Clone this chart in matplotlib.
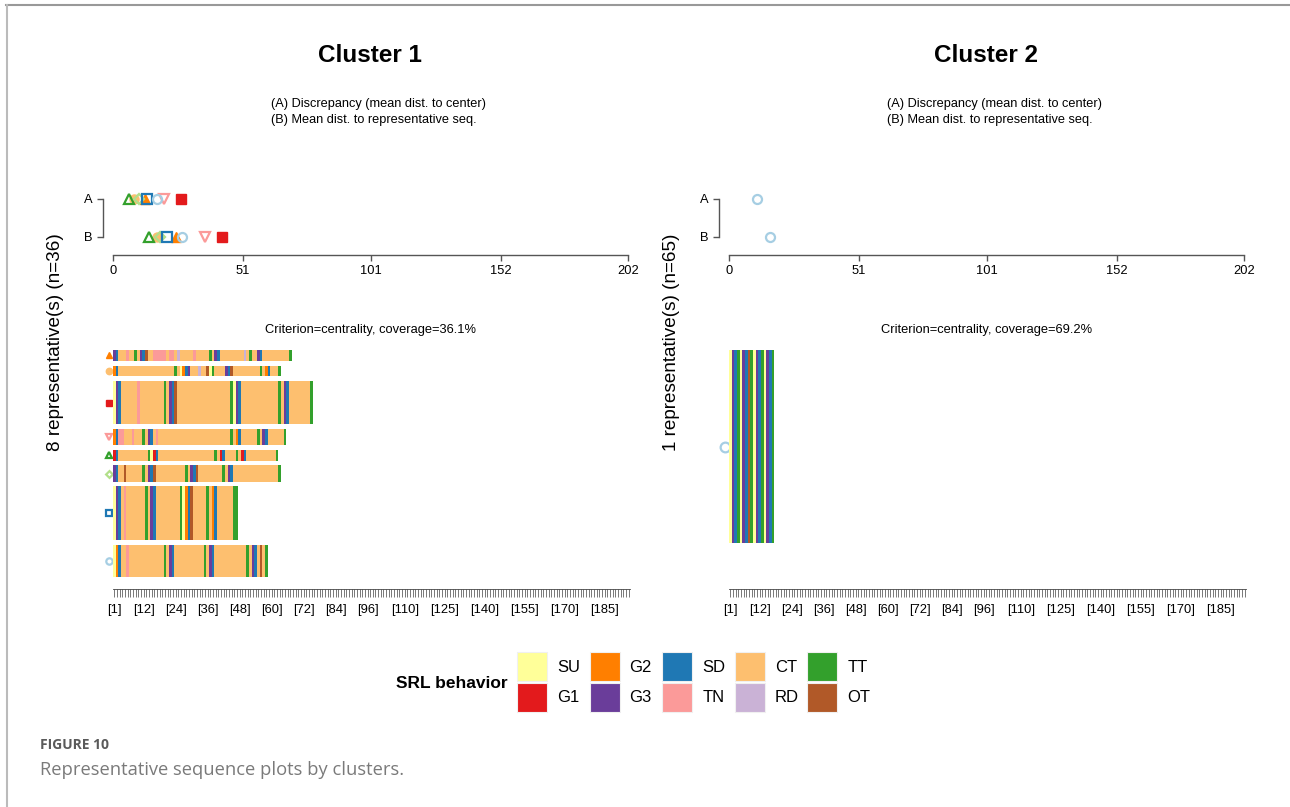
import matplotlib
matplotlib.use("Agg")
import matplotlib.pyplot as plt
from matplotlib.patches import Rectangle
from matplotlib.lines import Line2D

plt.rcParams['font.family'] = ['Liberation Sans', 'DejaVu Sans']

W, H = 1290, 807

# state alphabet and colours
states = ['SU', 'G1', 'G2', 'G3', 'SD', 'TN', 'CT', 'RD', 'TT', 'OT']
state_colors = ['#FFFF99', '#E31A1C', '#FF7F00', '#6A3D9A', '#1F78B4',
                '#FB9A99', '#FDBF6F', '#CAB2D6', '#33A02C', '#B15928']

n_positions = 194
pos_labels = [1, 12, 24, 36, 48, 60, 72, 84, 96, 110, 125, 140, 155, 170, 185]
dist_ticks = [0, 51, 101, 152, 202]

# cluster 1 representatives (top to bottom), run-length coded
c1_seqs = [
    [('G3', 1), ('SD', 1), ('CT', 3), ('TN', 1), ('CT', 2), ('TT', 1), ('CT', 1), ('G3', 1), ('SD', 1), ('OT', 1),
     ('CT', 2), ('TN', 5), ('CT', 1), ('TN', 2), ('CT', 1), ('RD', 1), ('CT', 5), ('TN', 1), ('CT', 5), ('TT', 1),
     ('CT', 1), ('G3', 1), ('SD', 1), ('CT', 9), ('RD', 1), ('CT', 1), ('TT', 1), ('CT', 2), ('G3', 1), ('SD', 1),
     ('CT', 10), ('TT', 1)],
    [('G2', 1), ('SD', 1), ('CT', 21), ('TT', 1), ('CT', 1), ('SU', 1), ('G2', 1), ('SD', 1), ('G3', 1), ('CT', 3),
     ('RD', 1), ('CT', 2), ('OT', 1), ('SU', 1), ('TT', 1), ('CT', 4), ('G3', 1), ('SD', 1), ('OT', 1), ('CT', 10),
     ('TT', 1), ('CT', 1), ('G2', 1), ('SD', 1), ('CT', 3), ('TT', 1)],
    [('SU', 1), ('G3', 1), ('SD', 1), ('CT', 6), ('TN', 1), ('CT', 9), ('TT', 1), ('CT', 1), ('G3', 1), ('SD', 1),
     ('OT', 1), ('CT', 20), ('TT', 1), ('SU', 1), ('G3', 1), ('SD', 1), ('CT', 14), ('TT', 1), ('CT', 1), ('G3', 1),
     ('SD', 1), ('CT', 8), ('TT', 1)],
    [('G2', 1), ('SD', 1), ('TN', 2), ('CT', 3), ('TN', 1), ('CT', 3), ('TT', 1), ('CT', 1), ('G3', 1), ('SD', 1),
     ('CT', 1), ('TN', 1), ('CT', 27), ('TT', 1), ('CT', 1), ('G2', 1), ('SD', 1), ('CT', 6), ('TT', 1), ('CT', 1),
     ('G3', 1), ('SD', 1), ('CT', 6), ('TT', 1)],
    [('G1', 1), ('SD', 1), ('CT', 11), ('TT', 1), ('SU', 1), ('G1', 1), ('SD', 1), ('CT', 21), ('TT', 1), ('CT', 1),
     ('G1', 1), ('SD', 1), ('CT', 4), ('TT', 1), ('CT', 1), ('G1', 1), ('SD', 1), ('CT', 11), ('TT', 1)],
    [('G3', 1), ('SD', 1), ('CT', 2), ('OT', 1), ('CT', 6), ('TT', 1), ('CT', 1), ('G3', 1), ('SD', 1), ('OT', 1),
     ('CT', 11), ('TT', 1), ('CT', 1), ('G3', 1), ('SD', 1), ('OT', 1), ('CT', 9), ('TT', 1), ('CT', 1), ('G3', 1),
     ('SD', 1), ('CT', 17), ('TT', 1)],
    [('SU', 1), ('G3', 1), ('SD', 1), ('CT', 1), ('TN', 1), ('CT', 7), ('TT', 1), ('CT', 1), ('G3', 1), ('SD', 1),
     ('CT', 9), ('TT', 1), ('SU', 1), ('G2', 1), ('SD', 1), ('OT', 1), ('CT', 5), ('TT', 1), ('CT', 1), ('G2', 1),
     ('SD', 1), ('CT', 6), ('TT', 2)],
    [('SU', 1), ('G2', 1), ('SD', 1), ('CT', 2), ('TN', 1), ('CT', 13), ('TT', 1), ('CT', 1), ('G3', 1), ('SD', 1),
     ('CT', 11), ('TT', 1), ('CT', 1), ('G3', 1), ('SD', 1), ('CT', 12), ('TT', 1), ('CT', 1), ('G3', 1), ('SD', 1),
     ('CT', 1), ('OT', 1), ('CT', 1), ('TT', 1)],
]
c1_weights = [2, 2, 8, 3, 2, 3, 10, 6]
c1_distA = [12.5, 8.4, 26.7, 20.1, 6.4, 10.3, 13.5, 17.1]
c1_distB = [24.7, 17.4, 42.9, 36.1, 14.0, 18.4, 21.0, 26.9]

c2_seqs = [
    [('SU', 1), ('G3', 1), ('SD', 1), ('TT', 1), ('SU', 1), ('G3', 1), ('SD', 1), ('OT', 1), ('TT', 1),
     ('SU', 1), ('G3', 1), ('SD', 1), ('TT', 1), ('SU', 1), ('G3', 1), ('SD', 1), ('TT', 1)],
]
c2_weights = [65]
c2_distA = [10.9]
c2_distB = [16.1]

# marker styles for the representatives
c1_markers = ['^', 'o', 's', 'v', '^', 'D', 's', 'o']
c1_mcolors = ['#FF7F00', '#FDBF6F', '#E31A1C', '#FB9A99', '#33A02C', '#B2DF8A', '#1F78B4', '#A6CEE3']
c1_filled = [True, True, True, False, False, False, False, False]
c2_markers = ['o']
c2_mcolors = ['#A6CEE3']
c2_filled = [False]

col = dict(zip(states, state_colors))
fig = plt.figure(figsize=(W / 100, H / 100), dpi=100)


def box(x0, y0, x1, y1):
    return [x0 / W, 1 - y1 / H, (x1 - x0) / W, (y1 - y0) / H]


def mstyle(m, c, filled, size):
    s = m == 'D' and size * 0.75 or size
    if filled:
        return dict(marker=m, markersize=s, color=c, markeredgecolor=c, linestyle='none')
    return dict(marker=m, markersize=s, markerfacecolor='none', markeredgecolor=c,
                markeredgewidth=1.6, linestyle='none')


def cluster(x0, title, seqs, weights, dA, dB, markers, mcols, filled, coverage, ylab, seq_msize):
    # titles
    fig.text((x0 + 257) / W, 1 - 55 / H, title, fontsize=17.5, fontweight='bold', ha='center', va='center')
    fig.text((x0 + 158) / W, 1 - 104 / H, '(A) Discrepancy (mean dist. to center)', fontsize=9.2, va='center')
    fig.text((x0 + 158) / W, 1 - 120 / H, '(B) Mean dist. to representative seq.', fontsize=9.2, va='center')
    fig.text((x0 - 57) / W, 1 - 342 / H, ylab, fontsize=13.6, rotation=90, ha='center', va='center')

    # distance panel
    ax = fig.add_axes(box(x0, 180, x0 + 515, 255))
    ax.set_xlim(0, 202)
    ax.set_ylim(0.526, 2.5)
    for a, b, m, c, f in zip(dA, dB, markers, mcols, filled):
        ax.plot([a], [2], clip_on=False, **mstyle(m, c, f, 6.5))
        ax.plot([b], [1], clip_on=False, **mstyle(m, c, f, 6.5))
    ax.spines['top'].set_visible(False)
    ax.spines['right'].set_visible(False)
    ax.spines['left'].set_bounds(1, 2)
    ax.spines['left'].set_position(('outward', 7))
    ax.spines['bottom'].set_bounds(0, 202)
    for s in ['left', 'bottom']:
        ax.spines[s].set_color('#555555')
        ax.spines[s].set_linewidth(1)
    ax.set_yticks([1, 2])
    ax.set_yticklabels(['B', 'A'])
    ax.set_xticks(dist_ticks)
    ax.set_xticklabels([str(t) for t in dist_ticks])
    ax.tick_params(axis='both', length=4.5, width=1, color='#555555', labelsize=9.3, pad=3)
    ax.patch.set_alpha(0)

    # sequence panel
    total = sum(weights)
    space = 0.2 * total / len(weights)
    ytop = total + space * len(weights)
    ax2 = fig.add_axes(box(x0, 350, x0 + 517, 582))
    ax2.set_xlim(0, n_positions)
    ax2.set_ylim(0, ytop)
    bottom = space
    for i in range(len(seqs) - 1, -1, -1):
        runs = seqs[i]
        start = 0
        bars, fcs = [], []
        for st, n in runs:
            bars.append((start, n))
            fcs.append(col[st])
            start += n
        ax2.broken_barh(bars, (bottom, weights[i]), facecolors=fcs, linewidth=0, zorder=3)
        ax2.plot([-1.5], [bottom + weights[i] / 2], clip_on=False, zorder=2,
                 **mstyle(markers[i], mcols[i], filled[i], seq_msize))
        bottom += weights[i] + space
    ax2.text(n_positions * 0.5 - 0.5, ytop + 3.7 * ytop / 43.2,
             'Criterion=centrality, coverage=%s' % coverage, fontsize=9.3, ha='center', va='center')
    for s in ['top', 'right', 'left']:
        ax2.spines[s].set_visible(False)
    ax2.spines['bottom'].set_position(('outward', 5))
    ax2.spines['bottom'].set_linewidth(0.6)
    ax2.spines['bottom'].set_color('#444444')
    centers = [p - 0.5 for p in range(1, n_positions + 1)]
    ax2.set_xticks(centers)
    ax2.set_xticklabels(['[%d]' % p if p in pos_labels else '' for p in range(1, n_positions + 1)])
    ax2.set_yticks([])
    ax2.tick_params(axis='x', length=6, width=0.5, color='#444444', labelsize=9.3, pad=5)
    ax2.patch.set_alpha(0)


cluster(113, 'Cluster 1', c1_seqs, c1_weights, c1_distA, c1_distB, c1_markers, c1_mcolors, c1_filled,
        '36.1%', '8 representative(s) (n=36)', 4.6)
cluster(729, 'Cluster 2', c2_seqs, c2_weights, c2_distA, c2_distB, c2_markers, c2_mcolors, c2_filled,
        '69.2%', '1 representative(s) (n=65)', 7)

# legend
fig.text(508 / W, 1 - 683 / H, 'SRL behavior', fontsize=12.5, fontweight='bold', ha='right', va='center')
for k, (st, c) in enumerate(zip(states, state_colors)):
    cx = 517 + (k // 2) * 72.6
    cy = 652 + (k % 2) * 31
    fig.add_artist(Rectangle((cx / W, 1 - (cy + 29) / H), 30 / W, 29 / H, transform=fig.transFigure,
                             facecolor=c, edgecolor='#f0f0f0', linewidth=0.8))
    fig.text((cx + 40) / W, 1 - (cy + 15) / H, st, fontsize=12, va='center')

# caption and frame
fig.text(40 / W, 1 - 745 / H, 'FIGURE 10', fontsize=10, fontweight='bold', color='#5a5a5a',
         family=['Open Sans', 'DejaVu Sans'], va='center')
fig.text(40 / W, 1 - 770 / H, 'Representative sequence plots by clusters.', fontsize=13.2, color='#7a7a7a',
         family=['Open Sans', 'DejaVu Sans'], va='center')
fig.add_artist(Line2D([6 / W, 1], [1 - 5 / H, 1 - 5 / H], color='#999999', linewidth=1.5))
fig.add_artist(Line2D([7 / W, 7 / W], [1 - 5 / H, 0], color='#bbbbbb', linewidth=1.5))

fig.savefig('out.png', dpi=100)
